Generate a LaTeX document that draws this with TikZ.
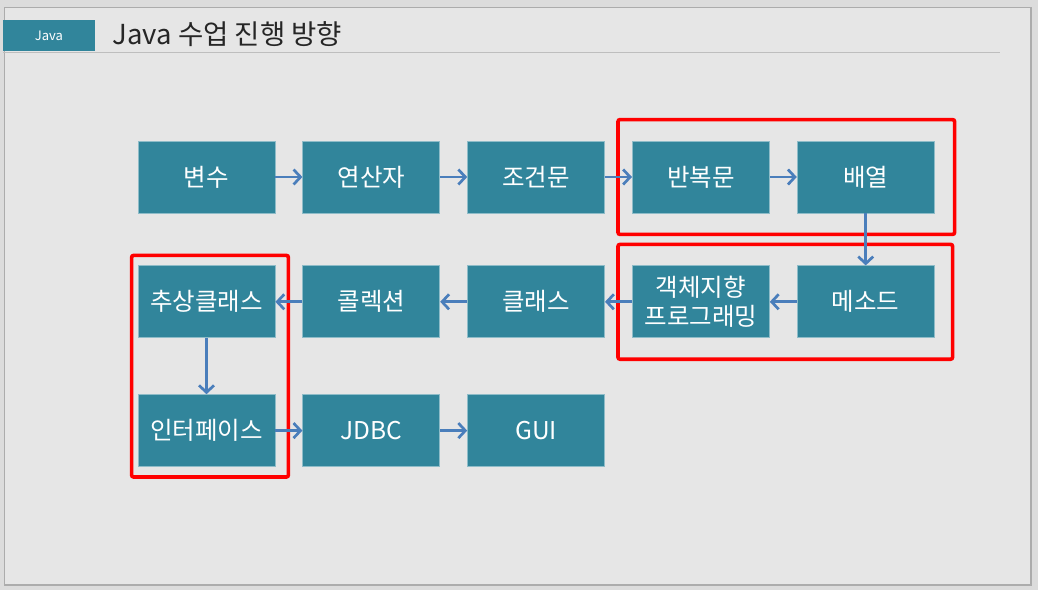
\documentclass[tikz,border=0pt]{standalone}
\usepackage{fontspec}
\setmainfont{Noto Sans CJK KR}
\usepackage{tikz}
\usetikzlibrary{arrows.meta, positioning, fit}
\definecolor{slidebg}{RGB}{230, 230, 230}
\definecolor{outerbg}{RGB}{220, 220, 220}
\definecolor{framegray}{RGB}{172, 172, 172}
\definecolor{rulegray}{RGB}{190, 190, 190}
\definecolor{boxteal}{RGB}{49, 133, 155}
\definecolor{arrowblue}{RGB}{74, 126, 187}
\definecolor{hilite}{RGB}{255, 0, 0}
\definecolor{titletext}{RGB}{38, 38, 38}

\begin{document}
\begin{tikzpicture}[
    x=1pt, y=-1pt,
    node distance=52pt and 27pt,
    box/.style={rectangle, minimum width=137pt, minimum height=72pt, inner sep=2pt,
                fill=boxteal, draw=boxteal!55!white, line width=0.8pt, text=white,
                align=center, font=\fontsize{24.5}{29}\selectfont},
    tabbox/.style={rectangle, minimum width=92pt, minimum height=31pt, fill=boxteal,
                   text=white, font=\fontsize{13}{15}\selectfont},
    redframe/.style={rectangle, draw=hilite, line width=3.6pt, rounded corners=2pt},
    arrow/.style={-{Straight Barb[length=7pt, width=15pt]}, line width=2.7pt, draw=arrowblue},
]

% slide background
\useasboundingbox (0,0) rectangle (1038,590);
\fill[outerbg] (0,0) rectangle (1038,590);
\filldraw[fill=slidebg, draw=framegray, line width=1.3pt] (4.5,7.5) rectangle (1031,585);

% title
\node[tabbox] (tab) at (49,35.5) {Java};
\node[anchor=base west, text=titletext, font=\fontsize{27.5}{32}\selectfont] (title) at (109,44) {Java 수업 진행 방향};
\draw[rulegray, line width=1pt] (3,52) -- (1000,52);

\node[box] (var) at (206.5,177) {변수};
\node[box, right=of var]   (oper)   {연산자};
\node[box, right=of oper]  (cond)   {조건문};
\node[box, right=of cond]  (loop)   {반복문};
\node[box, right=of loop]  (array)  {배열};

\node[box, below=of array] (method) {메소드};
\node[box, left=of method] (oop)    {객체지향\\프로그래밍};
\node[box, left=of oop]    (cls)    {클래스};
\node[box, left=of cls]    (coll)   {콜렉션};
\node[box, left=of coll]   (abstr)  {추상클래스};

\node[box, below=56pt of abstr] (iface) {인터페이스};
\node[box, right=of iface] (jdbc)   {JDBC};
\node[box, right=of jdbc]  (gui)    {GUI};

% highlighted groups
\node[redframe, fit=(loop)(array), inner xsep=17pt, inner ysep=21pt, xshift=3pt] (grp1) {};
\node[redframe, fit=(oop)(method), inner xsep=16pt, inner ysep=21pt, xshift=2pt] (grp2) {};
\node[redframe, fit=(abstr)(iface), inner xsep=9.5pt, inner ysep=10pt, xshift=3.5pt] (grp3) {};

\draw[arrow] (var)    -- (oper);
\draw[arrow] (oper)   -- (cond);
\draw[arrow] (cond)   -- (loop);
\draw[arrow] (loop)   -- (array);
\draw[arrow] (array)  -- (method);
\draw[arrow] (method) -- (oop);
\draw[arrow] (oop)    -- (cls);
\draw[arrow] (cls)    -- (coll);
\draw[arrow] (coll)   -- (abstr);
\draw[arrow] (abstr)  -- (iface);
\draw[arrow] (iface)  -- (jdbc);
\draw[arrow] (jdbc)   -- (gui);

\end{tikzpicture}
\end{document}
